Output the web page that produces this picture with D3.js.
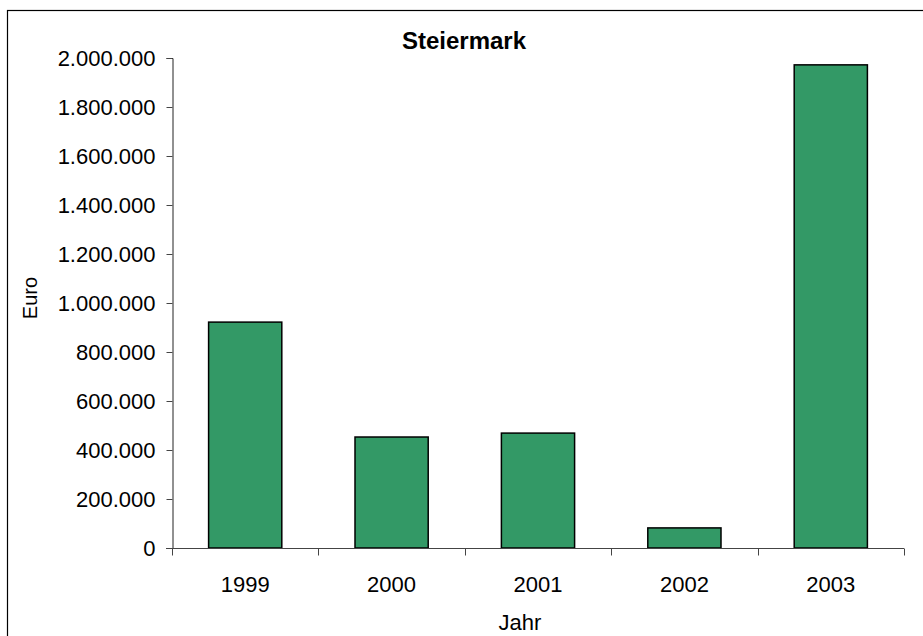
<!DOCTYPE html>
<html>
<head>
<meta charset="utf-8">
<script src="https://cdn.jsdelivr.net/npm/d3@7"></script>
<style>
  body { margin: 0; background: #fff; }
  text { font-family: Arial, "Liberation Sans", sans-serif; fill: #000; }
</style>
</head>
<body>
<div id="chart"></div>
<script>
var years = ["1999", "2000", "2001", "2002", "2003"];
var values = [922000, 453000, 469000, 82000, 1972000];
var yTicks = [0, 200000, 400000, 600000, 800000, 1000000, 1200000, 1400000, 1600000, 1800000, 2000000];

var width = 923,
  height = 636;

var svg = d3.select( "#chart" )
  .append( "svg" )
  .attr( "width", width )
  .attr( "height", height );

// outer frame (clipped at right and bottom like the original)
svg.append( "rect" )
  .attr( "x", 7.5 )
  .attr( "y", 10.5 )
  .attr( "width", 930 )
  .attr( "height", 640 )
  .attr( "fill", "none" )
  .attr( "stroke", "#000" )
  .attr( "stroke-width", 1.2 );

var plotLeft = 172, plotRight = 904, plotTop = 58, plotBottom = 548;

var x = d3.scaleBand()
  .domain( years )
  .range( [plotLeft, plotRight] )
  .paddingInner( 0.5 )
  .paddingOuter( 0.25 );

var xOuter = d3.scaleBand()
  .domain( years )
  .range( [plotLeft, plotRight] );

var y = d3.scaleLinear()
  .domain( [0, 2000000] )
  .range( [plotBottom, plotTop] );

var fmt = function(d){ return d3.format( ",.0f" )(d).replace( /,/g, "." ); };

// bars
svg.append( "g" )
  .selectAll( "rect" )
  .data( values )
  .enter()
  .append( "rect" )
  .attr( "x", function(d, i){ return x(years[i]); } )
  .attr( "y", function(d){ return y(d); } )
  .attr( "width", x.bandwidth() )
  .attr( "height", function(d){ return plotBottom - y(d); } )
  .attr( "fill", "#339966" )
  .attr( "stroke", "#000" )
  .attr( "stroke-width", 1.5 );

// y axis
var yAxis = svg.append( "g" )
  .attr( "transform", "translate(" + (plotLeft + 0.5) + ",0)" )
  .call( d3.axisLeft(y).tickValues( yTicks ).tickFormat( fmt ).tickSizeOuter(0).tickSize(6).tickPadding(11) );
yAxis.selectAll( "text" ).style( "font-size", "22px" ).attr( "dy", "0.36em" );
yAxis.selectAll( "line" ).attr( "stroke", "#444" );
yAxis.select( ".domain" ).attr( "stroke", "#222" );

// x axis
var xAxis = svg.append( "g" )
  .attr( "transform", "translate(0," + (plotBottom + 0.5) + ")" );
xAxis.append( "line" )
  .attr( "x1", plotLeft - 6 )
  .attr( "x2", plotRight )
  .attr( "stroke", "#444" );
xAxis.selectAll( ".tick" )
  .data( years.concat( ["end"] ) )
  .enter()
  .append( "line" )
  .attr( "x1", function(d, i){ return Math.round( plotLeft + i * xOuter.step() ) + 0.5; } )
  .attr( "x2", function(d, i){ return Math.round( plotLeft + i * xOuter.step() ) + 0.5; } )
  .attr( "y1", 0 )
  .attr( "y2", 7 )
  .attr( "stroke", "#444" );
xAxis.selectAll( "text" )
  .data( years )
  .enter()
  .append( "text" )
  .attr( "x", function(d){ return xOuter(d) + xOuter.bandwidth() / 2; } )
  .attr( "y", 43 )
  .attr( "text-anchor", "middle" )
  .style( "font-size", "22px" )
  .text( function(d){ return d; } );

// title and axis titles
svg.append( "text" )
  .attr( "x", 464 )
  .attr( "y", 49 )
  .attr( "text-anchor", "middle" )
  .style( "font-size", "24px" )
  .style( "font-weight", "bold" )
  .text( "Steiermark" );

svg.append( "text" )
  .attr( "x", 520 )
  .attr( "y", 630 )
  .attr( "text-anchor", "middle" )
  .style( "font-size", "22px" )
  .text( "Jahr" );

svg.append( "text" )
  .attr( "transform", "translate(37,298) rotate(-90)" )
  .attr( "text-anchor", "middle" )
  .style( "font-size", "20px" )
  .text( "Euro" );
</script>
</body>
</html>
